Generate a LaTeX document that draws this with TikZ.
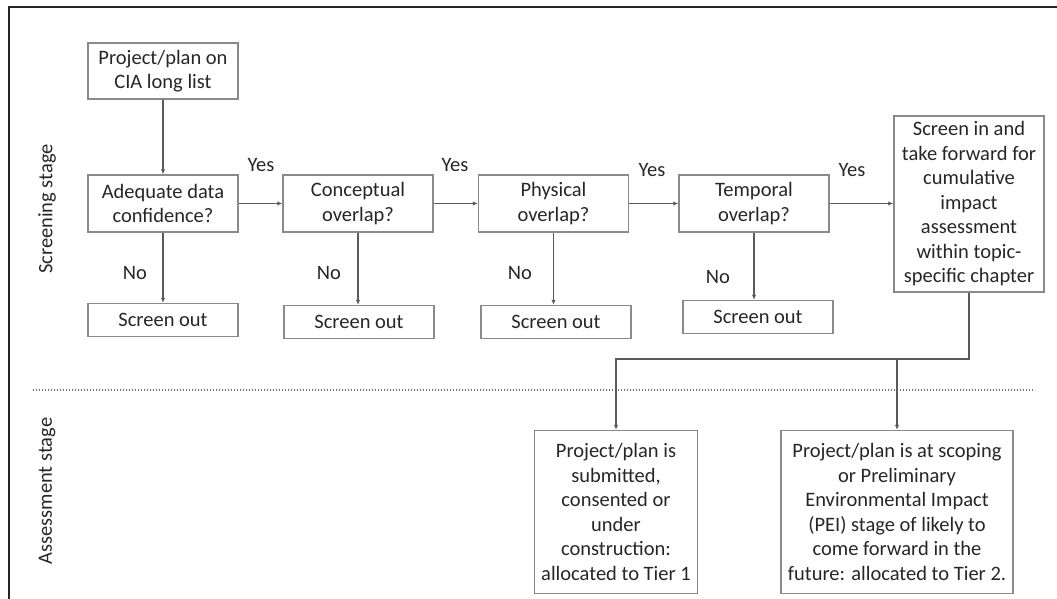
\documentclass[tikz,border=0pt]{standalone}
\usepackage{fontspec}
\setmainfont{Carlito}
\usepackage{xcolor}
\usetikzlibrary{arrows.meta}

\definecolor{boxgray}{HTML}{8A8A8A}
\definecolor{linegray}{HTML}{5A5A5A}
\definecolor{textgray}{HTML}{262626}

\tikzset{
  stagebox/.style={rectangle, draw=boxgray, line width=1.4pt, align=center, text=textgray, inner sep=2pt, font=\fontsize{20.5}{24.5}\selectfont},
  outbox/.style={stagebox, minimum width=150pt, minimum height=33pt},
  askbox/.style={stagebox, minimum width=150pt, minimum height=57pt},
  flow/.style={draw=linegray, line width=1.1pt, -{Latex[length=5pt,width=4.5pt]}},
  answer/.style={text=textgray, font=\fontsize{20.5}{24}\selectfont},
}

\begin{document}
\begin{tikzpicture}[x=1pt, y=-1pt]
\useasboundingbox (0,0) rectangle (1057,599);
% frame (only top and left edges show)
\draw[line width=2.2pt, black!85] (9,599) -- (9,7) -- (1057,7);

% stage labels and divider
\node[answer, rotate=90] (screenlbl) at (47,209) {Screening stage};
\node[answer, rotate=90] (assesslbl) at (47,491) {Assessment stage};
\draw[black!55, line width=2.4pt, dash pattern=on 1.4pt off 1.6pt] (33,390) -- (1034,390);

% screening stage
\node[stagebox, minimum width=150pt, minimum height=56pt] (start) at (163,71) {Project/plan on\\CIA long list};
\node[askbox] (qdata) at (163,203.5) {Adequate data\\confidence?};
\node[askbox] (qconcept) at (358,203.5) {Conceptual\\overlap?};
\node[askbox] (qphys) at (553.5,203.5) {Physical\\overlap?};
\node[askbox] (qtemp) at (754,203.5) {Temporal\\overlap?};
\node[stagebox, minimum width=150pt, minimum height=176pt] (screenin) at (969,204) {Screen in and\\take forward for\\cumulative\\impact\\assessment\\within topic-\\specific chapter};

\node[outbox] (out1) at (163,320) {Screen out};
\node[outbox] (out2) at (359,322) {Screen out};
\node[outbox] (out3) at (556,322) {Screen out};
\node[outbox] (out4) at (758,317) {Screen out};

% assessment stage
\node[stagebox, minimum width=163pt, minimum height=163pt] (tier1) at (616,512) {Project/plan is\\submitted,\\consented or\\under\\construction:\\allocated to Tier 1};
\node[stagebox, minimum width=232pt, minimum height=163pt] (tier2) at (897,512) {Project/plan is at scoping\\or Preliminary\\Environmental Impact\\(PEI) stage of likely to\\come forward in the\\future: allocated to Tier 2.};

% connectors
\draw[flow] (start) -- (qdata);
\draw[flow] (qdata) -- (qconcept);
\draw[flow] (qconcept) -- (qphys);
\draw[flow] (qphys) -- (qtemp);
\draw[flow] (qtemp.east) -- (qtemp.east -| screenin.west);
\draw[flow] (qdata.south) -- (qdata.south |- out1.north);
\draw[flow] (qconcept.south) -- (qconcept.south |- out2.north);
\draw[flow] (qphys.south) -- (qphys.south |- out3.north);
\draw[flow] (qtemp.south) -- (qtemp.south |- out4.north);

\coordinate (bus) at (616,359);
\draw[flow] (screenin.south) |- (bus) -- (tier1.north);
\draw[flow] (tier2.north |- bus) -- (tier2.north);

% yes / no labels
\node[answer] (yes1) at (261,165) {Yes};
\node[answer] (yes2) at (455,165) {Yes};
\node[answer] (yes3) at (652,170) {Yes};
\node[answer] (yes4) at (852,170) {Yes};
\node[answer] (no1) at (135,273) {No};
\node[answer] (no2) at (329,273) {No};
\node[answer] (no3) at (520,273) {No};
\node[answer] (no4) at (718,277) {No};
\end{tikzpicture}
\end{document}
